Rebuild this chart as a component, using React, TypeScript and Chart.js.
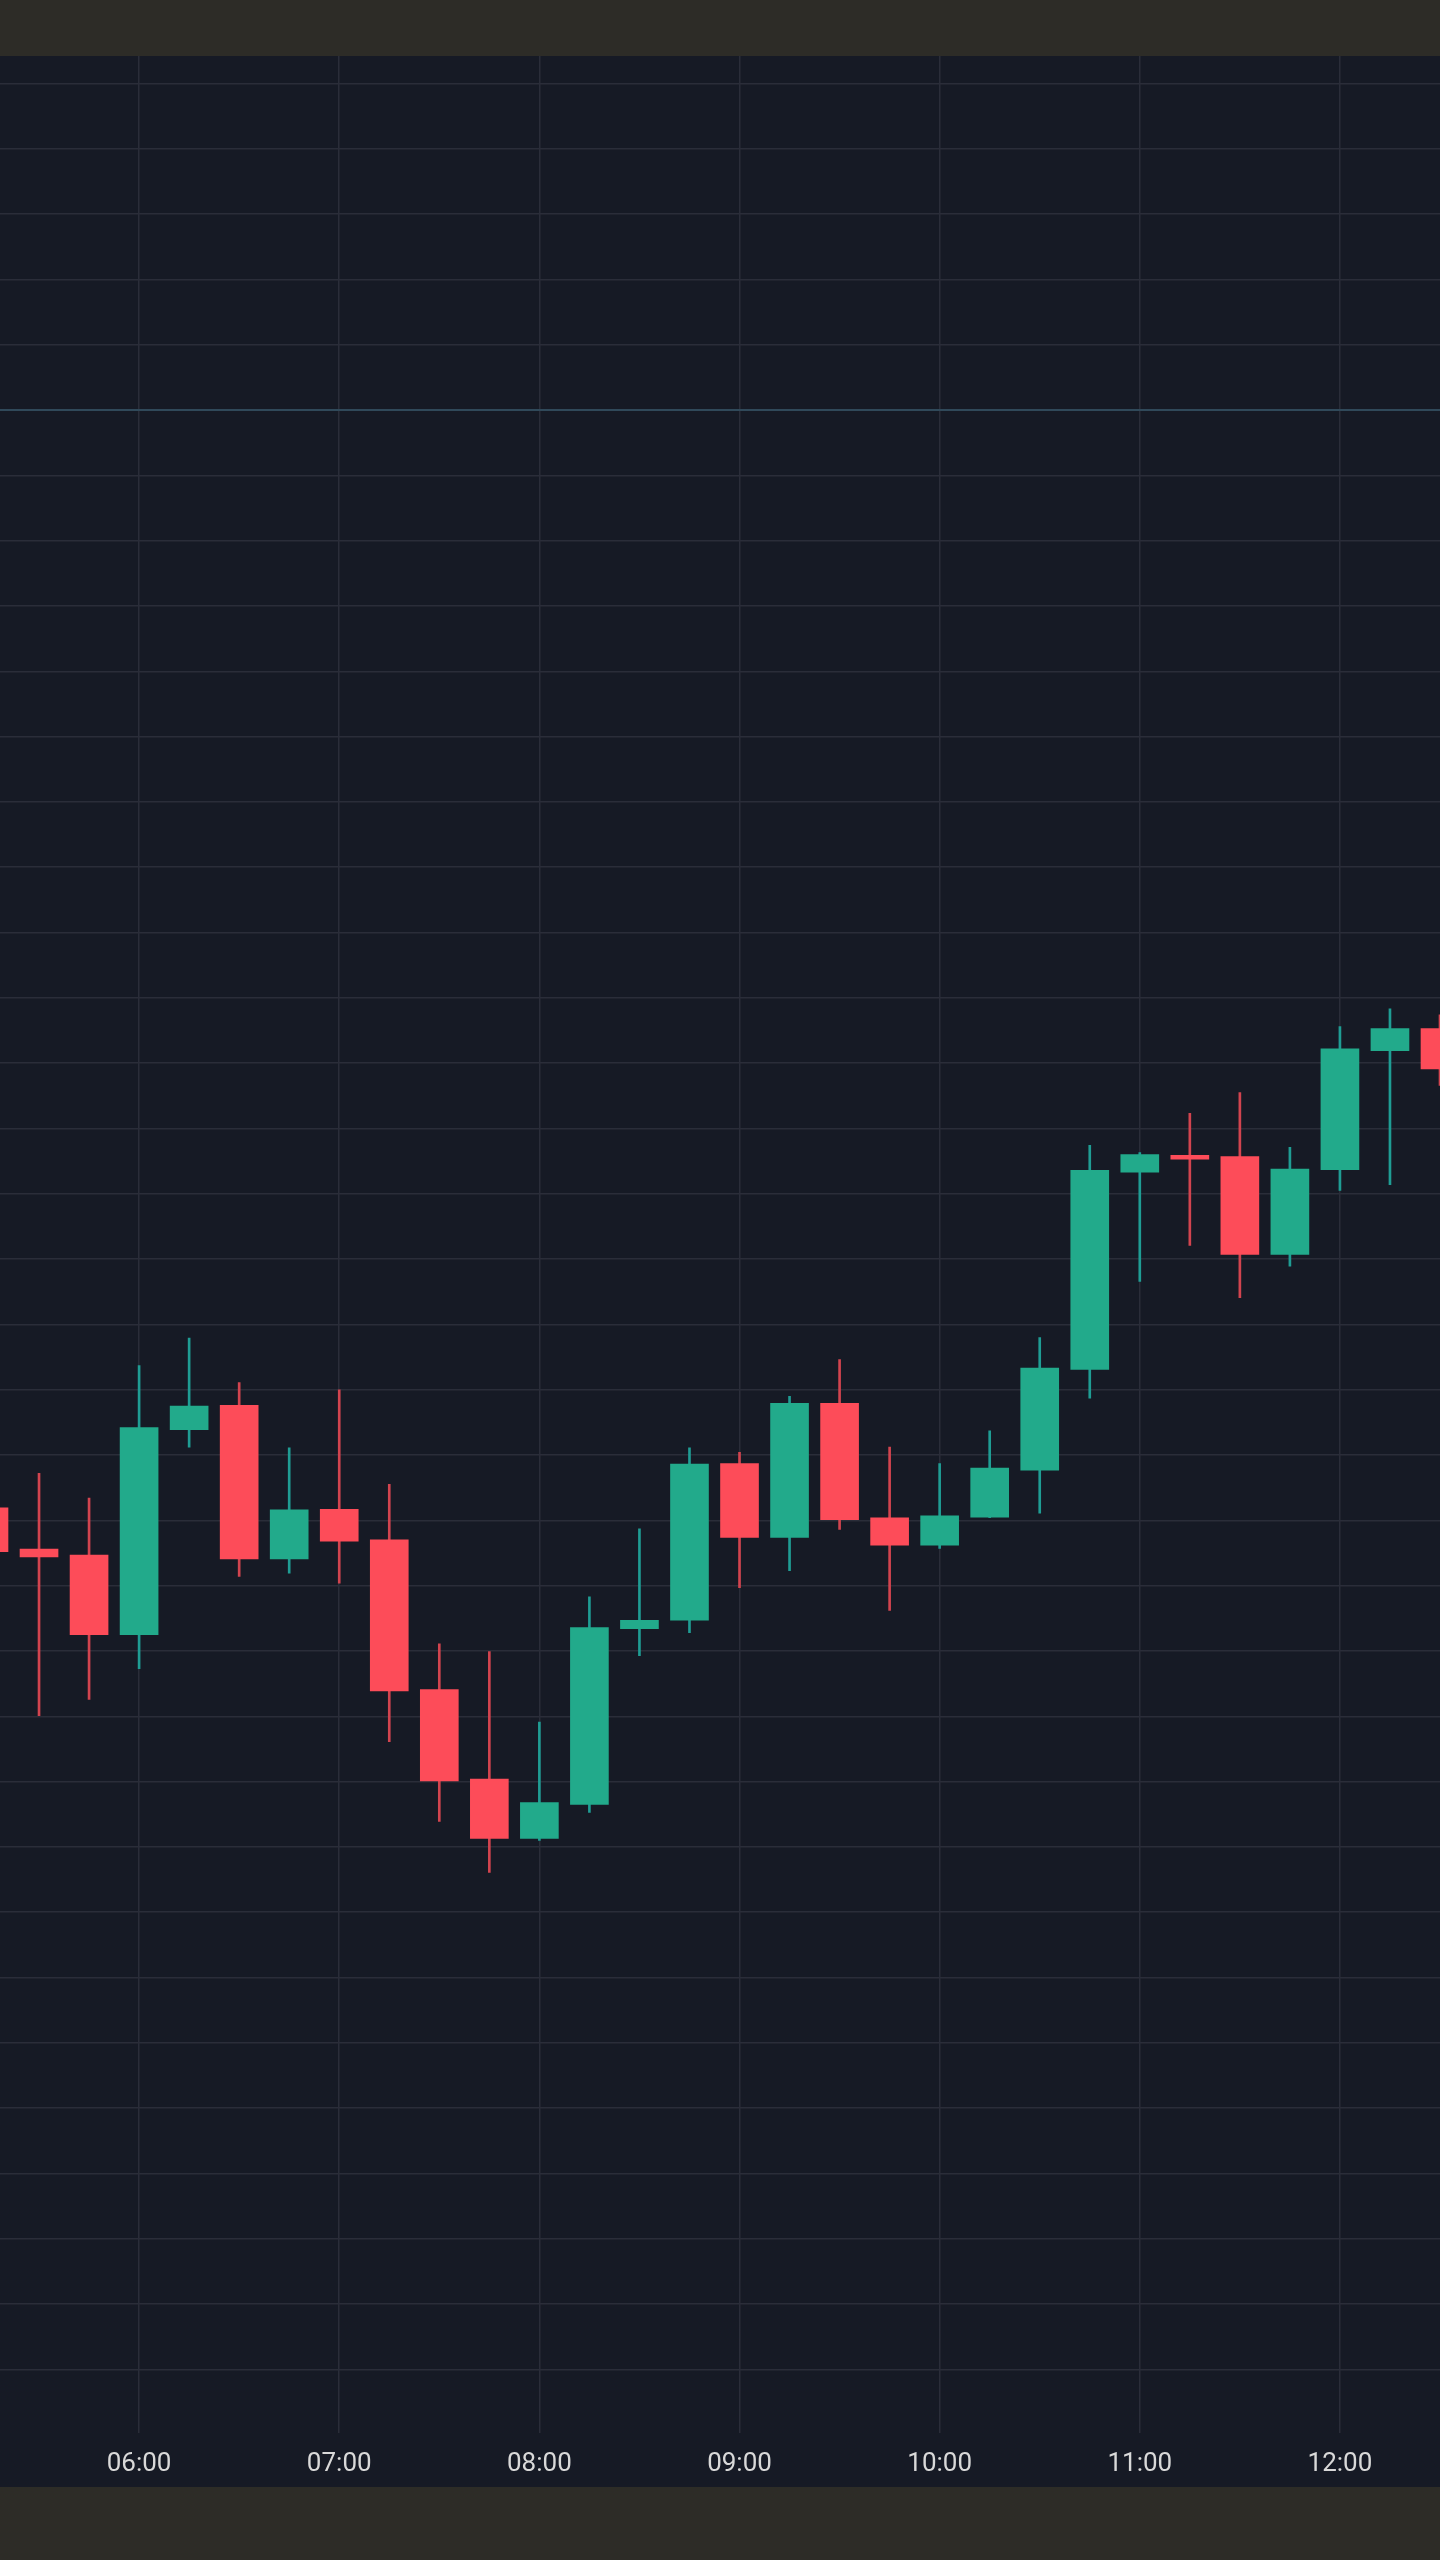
import React, { useEffect, useRef } from 'react';
import { Chart, registerables } from 'chart.js';

Chart.register(...registerables);

// 15-minute candles
const times = [
  '05:15', '05:30', '05:45', '06:00', '06:15', '06:30', '06:45', '07:00', '07:15', '07:30',
  '07:45', '08:00', '08:15', '08:30', '08:45', '09:00', '09:15', '09:30', '09:45', '10:00',
  '10:15', '10:30', '10:45', '11:00', '11:15', '11:30', '11:45', '12:00', '12:15', '12:30',
];
const opens = [
  1541.9, 1535.6, 1534.7, 1522.5, 1553.9, 1557.6, 1534.1, 1541.7, 1537.0, 1514.1,
  1500.4, 1491.3, 1496.5, 1523.4, 1524.7, 1548.7, 1537.4, 1557.9, 1540.4, 1536.2,
  1540.5, 1547.7, 1563.1, 1593.3, 1595.9, 1595.7, 1580.7, 1593.7, 1611.9, 1615.3,
];
const highs = [
  1543.8, 1547.2, 1543.4, 1563.7, 1567.9, 1561.1, 1551.1, 1560.0, 1545.5, 1521.1,
  1519.9, 1509.1, 1528.3, 1538.7, 1551.1, 1550.4, 1559.0, 1564.6, 1551.2, 1548.7,
  1553.7, 1568.0, 1597.4, 1596.3, 1602.3, 1605.5, 1597.1, 1615.6, 1618.3, 1617.4,
];
const lows = [
  1533.1, 1510.1, 1512.6, 1517.3, 1551.2, 1531.4, 1531.9, 1530.4, 1506.1, 1493.9,
  1486.1, 1491.0, 1495.3, 1519.3, 1522.8, 1529.7, 1532.3, 1538.6, 1526.2, 1535.7,
  1540.4, 1541.1, 1558.7, 1576.6, 1582.1, 1574.1, 1578.9, 1590.5, 1591.4, 1606.6,
];
const closes = [
  1535.2, 1534.4, 1522.5, 1554.2, 1557.5, 1534.1, 1541.6, 1536.8, 1513.9, 1500.1,
  1491.3, 1496.8, 1523.6, 1524.7, 1548.6, 1537.4, 1557.9, 1540.1, 1536.2, 1540.7,
  1548.0, 1563.3, 1593.6, 1596.0, 1595.3, 1580.7, 1593.8, 1612.2, 1615.3, 1609.1,
];

// axis tick labels
const hourTicks = ['06:00', '07:00', '08:00', '09:00', '10:00', '11:00', '12:00'];

// visible window (minutes since midnight / price)
const xMin = 318.3;
const xMax = 750;
const yMin = 1400.3;
const yMax = 1764.2;
const gridStep = 10;
const priceLine = 1710;

const UP = '#22aa8b';
const DOWN = '#fd4c59';
const UP_WICK = '#1f9d94';
const DOWN_WICK = '#d2444f';
const GRID = '#2a2d39';
const PRICE_LINE = '#30495a';

const toMinutes = (s: string) => {
  const [h, m] = s.split(':').map(Number);
  return h * 60 + m;
};
const pad = (n: number) => String(n).padStart(2, '0');
const toLabel = (v: number) => `${pad(Math.floor(v / 60))}:${pad(Math.round(v % 60))}`;

export default function App() {
  const ref = useRef<HTMLCanvasElement | null>(null);

  useEffect(() => {
    if (!ref.current) return;
    const xs = times.map(toMinutes);
    const isUp = opens.map((o, i) => closes[i] >= o);

    const chart = new Chart(ref.current, {
      type: 'bar',
      data: {
        datasets: [
          {
            label: 'body',
            data: xs.map((x, i) => ({ x, y: [opens[i], closes[i]] })) as any,
            backgroundColor: isUp.map((u) => (u ? UP : DOWN)),
            borderWidth: 0,
            barThickness: 38,
            grouped: false,
            order: 0,
          } as any,
          {
            label: 'wick',
            data: xs.map((x, i) => ({ x, y: [lows[i], highs[i]] })) as any,
            backgroundColor: isUp.map((u) => (u ? UP_WICK : DOWN_WICK)),
            borderWidth: 0,
            barThickness: 2,
            grouped: false,
            order: 1,
          } as any,
        ],
      },
      options: {
        responsive: false,
        animation: false,
        devicePixelRatio: 1,
        layout: { padding: 0 },
        plugins: {
          legend: { display: false },
          tooltip: { enabled: false },
        },
        scales: {
          x: {
            type: 'linear',
            min: xMin,
            max: xMax,
            offset: false,
            afterBuildTicks: (scale: any) => {
              scale.ticks = hourTicks.map((t) => ({ value: toMinutes(t) }));
            },
            ticks: {
              autoSkip: false,
              maxRotation: 0,
              padding: 16,
              color: '#d9d9d9',
              font: { family: 'Roboto', size: 26 },
              callback: (v: any) => toLabel(Number(v)),
            },
            grid: { offset: false, color: GRID, lineWidth: 1.5, drawTicks: false },
            border: { display: false },
          },
          y: {
            type: 'linear',
            min: yMin,
            max: yMax,
            afterBuildTicks: (scale: any) => {
              const ticks = [];
              for (let v = Math.ceil(yMin / gridStep) * gridStep; v <= yMax; v += gridStep) {
                ticks.push({ value: v });
              }
              scale.ticks = ticks;
            },
            ticks: { display: false },
            grid: {
              offset: false,
              drawTicks: false,
              color: (ctx: any) => (ctx.tick && ctx.tick.value === priceLine ? PRICE_LINE : GRID),
              lineWidth: (ctx: any) => (ctx.tick && ctx.tick.value === priceLine ? 2 : 1.5),
            },
            border: { display: false },
          },
        },
      } as any,
    });
    return () => chart.destroy();
  }, []);

  return (
    <div
      style={{
        position: 'absolute',
        left: 0,
        top: 0,
        width: 1440,
        height: 2560,
        background: '#2d2c27',
      }}
    >
      <div
        style={{
          position: 'absolute',
          left: 0,
          top: 56,
          width: 1440,
          height: 2431,
          background: '#161a25',
          overflow: 'hidden',
        }}
      >
        <canvas ref={ref} width={1440} height={2440} style={{ display: 'block', width: 1440, height: 2440 }} />
      </div>
    </div>
  );
}
